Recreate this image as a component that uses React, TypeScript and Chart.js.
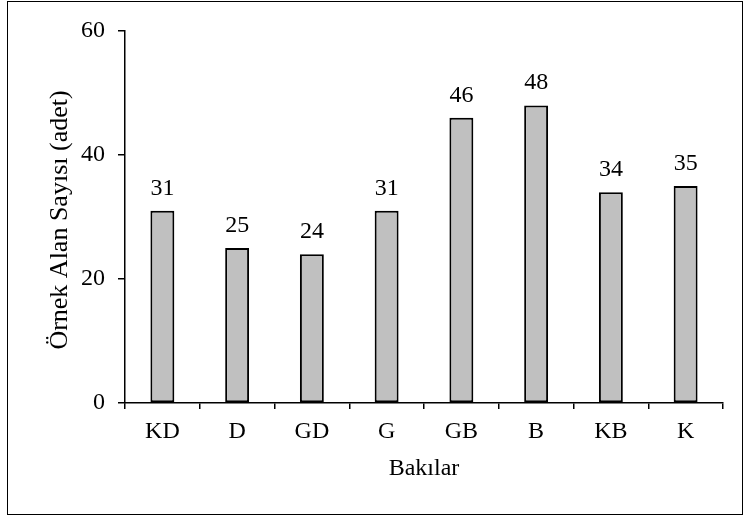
import React, { useEffect, useRef } from "react";
import { Chart, registerables } from "chart.js";

Chart.register(...registerables);

const categories = ["KD", "D", "GD", "G", "GB", "B", "KB", "K"];
const counts = [31, 25, 24, 31, 46, 48, 34, 35];
const yTitle = "Örnek Alan Sayısı (adet)";
const xTitle = "Bakılar";

const FONT = "'Liberation Serif', 'Times New Roman', serif";

const labelPlugin = {
  id: "barValueLabels",
  afterDatasetsDraw(chart: any) {
    const ctx = chart.ctx;
    const meta = chart.getDatasetMeta(0);
    ctx.save();
    ctx.font = `24px ${FONT}`;
    ctx.fillStyle = "#000";
    ctx.textAlign = "center";
    ctx.textBaseline = "alphabetic";
    meta.data.forEach((el: any, i: number) => {
      ctx.fillText(String(counts[i]), el.x, el.y - 16);
    });
    // axis titles
    const area = chart.chartArea;
    ctx.font = `24px ${FONT}`;
    ctx.textBaseline = "alphabetic";
    ctx.fillText(xTitle, (area.left + area.right) / 2, 475);
    ctx.translate(67, (area.top + area.bottom) / 2 + 3);
    ctx.rotate(-Math.PI / 2);
    ctx.font = `26px ${FONT}`;
    ctx.fillText(yTitle, 0, 0);
    ctx.restore();
  },
};

export default function App() {
  const ref = useRef<HTMLCanvasElement | null>(null);
  useEffect(() => {
    if (!ref.current) return;
    const chart = new Chart(ref.current, {
      type: "bar",
      data: {
        labels: categories,
        datasets: [
          {
            data: counts,
            backgroundColor: "#c0c0c0",
            borderColor: "#000",
            borderWidth: 2,
            borderSkipped: false,
            categoryPercentage: 1,
            barPercentage: 0.32,
          },
        ],
      },
      options: {
        animation: false,
        responsive: false,
        maintainAspectRatio: false,
        layout: { padding: { left: 0, right: 21, top: 31, bottom: 0 } },
        plugins: { legend: { display: false }, tooltip: { enabled: false } },
        scales: {
          x: {
            afterFit: (s: any) => {
              s.height = 113;
            },
            grid: {
              offset: true,
              drawOnChartArea: false,
              drawTicks: true,
              tickLength: 6,
              color: "#000",
              lineWidth: 1.5,
            },
            border: { display: true, color: "#000", width: 1.5 },
            ticks: {
              color: "#000",
              padding: 8,
              font: { family: FONT, size: 24 },
              maxRotation: 0,
            },
          },
          y: {
            min: 0,
            max: 60,
            afterFit: (s: any) => {
              s.width = 125;
            },
            grid: {
              drawOnChartArea: false,
              drawTicks: true,
              tickLength: 7,
              color: "#000",
              lineWidth: 1.5,
            },
            border: { display: true, color: "#000", width: 1.5 },
            ticks: {
              stepSize: 20,
              color: "#000",
              padding: 13,
              font: { family: FONT, size: 24 },
            },
          },
        },
      },
      plugins: [labelPlugin],
    } as any);
    return () => chart.destroy();
  }, []);

  return (
    <div style={{ position: "fixed", left: 0, top: 0, width: 744, height: 516, background: "#fff" }}>
      <canvas ref={ref} width={744} height={516} style={{ position: "absolute", left: 0, top: 0, width: 744, height: 516 }} />
      <div
        style={{
          position: "absolute",
          left: 7,
          top: 1,
          width: 736,
          height: 514,
          border: "1px solid #000",
          boxSizing: "border-box",
          pointerEvents: "none",
        }}
      />
    </div>
  );
}
